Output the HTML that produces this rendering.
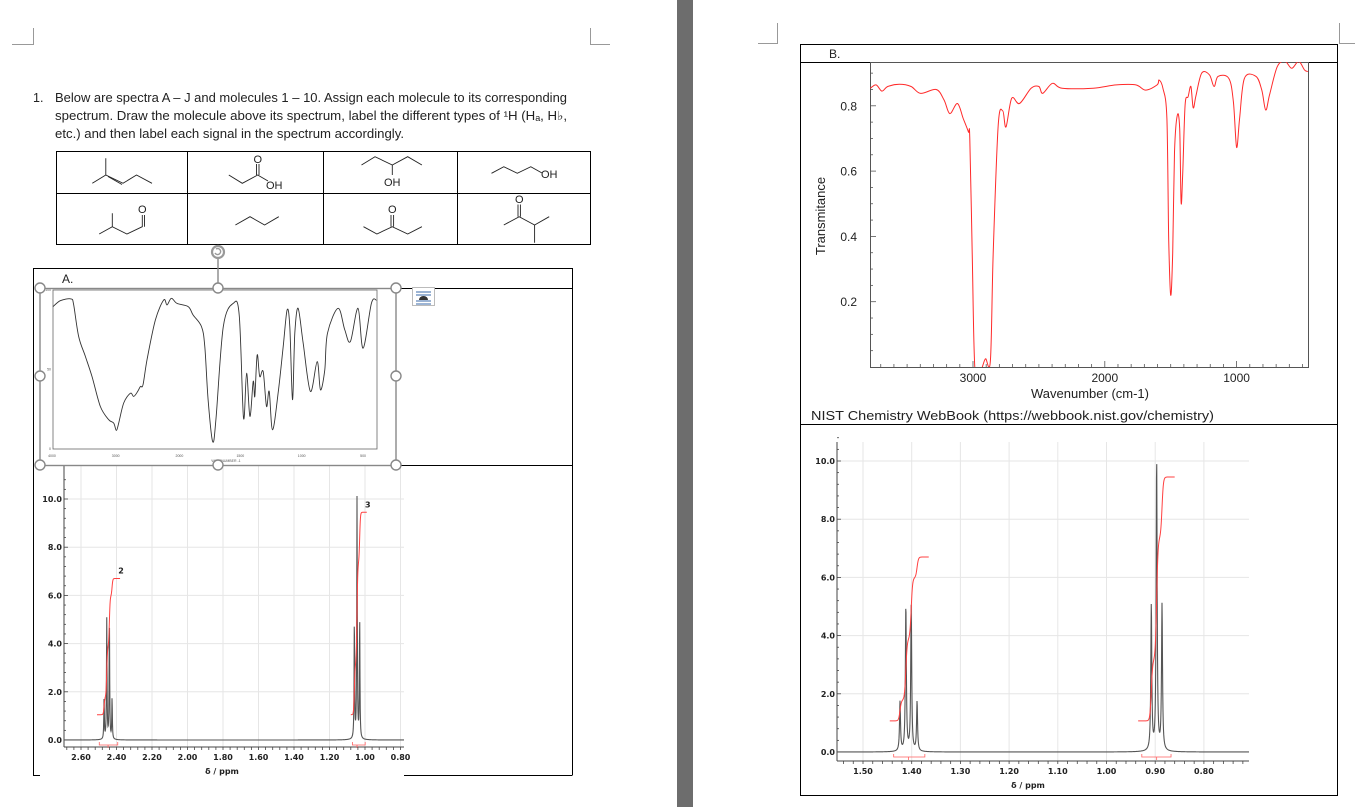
<!DOCTYPE html>
<html><head><meta charset="utf-8">
<style>
html,body{margin:0;padding:0;background:#fff;}
svg{display:block;font-family:"Liberation Sans",sans-serif;}
.nt{font-family:"DejaVu Sans","Liberation Sans",sans-serif;font-weight:bold;font-size:8px;fill:#222;}
</style></head>
<body>
<svg id="page" width="1355" height="807" viewBox="0 0 1355 807" xmlns="http://www.w3.org/2000/svg">
<rect x="0" y="0" width="1355" height="807" fill="#fff"/>
<rect x="677" y="0" width="16" height="807" fill="#6d6d6d"/>
<g stroke="#999" stroke-width="1" fill="none">
<path d="M12 44.5H33.5V28"/><path d="M590.5 28V44.5H610"/><path d="M758 43.5H777.5V23"/><path d="M1339.5 23V43.5H1355"/>
</g>
<g font-size="12.5" fill="#222">
<text x="33" y="102">1.</text>
<text x="55" y="102" textLength="512" lengthAdjust="spacingAndGlyphs">Below are spectra A – J and molecules 1 – 10. Assign each molecule to its corresponding</text>
<text x="55" y="120" textLength="512" lengthAdjust="spacingAndGlyphs">spectrum. Draw the molecule above its spectrum, label the different types of ¹H (Hₐ, H♭,</text>
<text x="55" y="138" textLength="349" lengthAdjust="spacingAndGlyphs">etc.) and then label each signal in the spectrum accordingly.</text>
</g>
<g stroke="#000" fill="none" stroke-width="1">
<rect x="56.5" y="151.5" width="534" height="93"/>
<path d="M56 193.5H591M187.5 151V245M323.5 151V245M457.5 151V245"/>
</g>
<g stroke="#222" fill="none" stroke-width="0.9">
<polyline points="92.3,183.3 105.8,175 123,183.3 136.5,175 152,183.3"/><path d="M105.8,158.3V175M108,176.5L122,184.5"/>
<polyline points="228.8,175 242.3,183.3 257.7,175 268,181"/><path d="M256.5,175V164M259,175V164"/>
<polyline points="361.5,165 375,156.7 392.3,165 407.7,156.7 421.9,165"/><path d="M392.3,165V175"/>
<polyline points="491.5,173.3 503.8,166.7 517.3,173.3 530.8,166.7 542,173"/>
<polyline points="99.2,234 112.3,226.7 126.9,234 142.3,226.7 142.3,215"/><path d="M112.3,226.7V213.3M144.5,226.7V215"/>
<polyline points="235.4,225 250,216.7 264.6,225 278.8,216.7"/>
<polyline points="363.5,226.7 376.9,234 392.3,226.7 407.7,234 421.9,226.7"/><path d="M391,226.7V215M393.6,226.7V215"/>
<polyline points="503.8,225 519.2,216.7 534.6,225 549.2,216.7"/><path d="M518,216.7V204.5M520.4,216.7V204.5M534.6,225V242.7"/>
</g>
<g font-size="11" fill="#222" stroke="none">
<text x="253.5" y="163">O</text><text x="266" y="189">OH</text>
<text x="384" y="186">OH</text><text x="541" y="178">OH</text>
<text x="138" y="213">O</text><text x="388" y="213">O</text><text x="515" y="203">O</text>
</g>
<g stroke="#000" fill="none" stroke-width="1">
<path d="M33.5 775V268.5H572.5V775"/>
<path d="M396 288.5H572.5M396 465.5H572.5M33 775.5H40M404 775.5H572.5"/>
</g>
<text x="62" y="283" font-size="12" fill="#222">A.</text>
<g id="irA"></g>
<g id="nmrA"></g>
<g stroke="#888" fill="#fff" stroke-width="1.4">
<rect x="40" y="288.5" width="356" height="177" fill="none"/>
<path d="M218 258V284" fill="none"/>
<circle cx="40" cy="288" r="5"/><circle cx="218" cy="288" r="5"/><circle cx="396" cy="288" r="5"/>
<circle cx="40" cy="376" r="5"/><circle cx="396" cy="376" r="5"/>
<circle cx="40" cy="465" r="5"/><circle cx="218" cy="465" r="5"/><circle cx="396" cy="465" r="5"/>
</g>
<g>
<circle cx="218" cy="252" r="6" fill="none" stroke="#999" stroke-width="2.2"/>
<path d="M216,249 a3,3 0 1 1 -1,4" fill="none" stroke="#999" stroke-width="1.4"/>
</g>
<g>
<rect x="412.5" y="287.5" width="22" height="18" fill="#fff" stroke="#bbb"/>
<path d="M416 292H431M416 295H431M416 301H431M416 304H431" stroke="#3a6aa8" stroke-width="1"/>
<path d="M419 300a4.5 4 0 0 1 9 0" fill="#333"/>
</g>
<g stroke="#000" fill="none" stroke-width="1">
<rect x="800.5" y="44.5" width="537" height="751"/>
<path d="M800 62.5H1338M800 424.5H1338"/>
</g>
<text x="829" y="58" font-size="12" fill="#222">B.</text>
<g id="irB"></g>
<text x="811" y="420" font-size="13" fill="#222" textLength="403" lengthAdjust="spacingAndGlyphs">NIST Chemistry WebBook (https://webbook.nist.gov/chemistry)</text>
<g id="nmrB"></g>
</svg>
<script>
const irA_wn = [3984,3869,3702,3660,3581,3476,3372,3241,3110,3031,2990,2953,2874,2770,2717,2654,2613,2571,2508,2377,2246,2194,2126,2037,1924,1885,1817,1790,1763,1726,1699,1639,1558,1509,1474,1449,1422,1395,1382,1363,1342,1314,1287,1265,1238,1192,1151,1119,1097,1075,1056,1029,988,929,874,847,812,790,703,649,603,541,500,432,391];
const irA_T = [89.5,93.3,94.4,90.6,70.7,58.2,45.6,26.8,18.4,16.3,11.7,16.3,28.9,35.1,33.1,36.2,39.3,40.4,56.1,81.2,93.7,90.6,94.8,91.6,89.5,84.3,77.0,64.4,31.0,4.8,18.4,77.0,91.6,84.3,19.5,47.7,20.5,42.5,33.1,59.2,45.6,48.7,26.8,36.2,12.1,35.1,64.4,87.4,77.0,31.0,72.8,88.5,66.5,36.2,55.0,37.2,49.8,72.8,88.5,74.9,67.6,88.5,63.4,91.6,93.7];
const irA_ticks = [4000,3000,2000,1500,1000,500];
const irB_wn = [3779,3735,3691,3647,3559,3470,3397,3279,3220,3176,3118,3074,3035,3024,3006,2985,2941,2906,2868,2847,2809,2774,2750,2706,2647,2559,2500,2471,2397,2324,2088,1912,1765,1691,1603,1588,1559,1529,1515,1500,1485,1471,1450,1432,1421,1409,1391,1368,1347,1329,1309,1265,1206,1171,1141,1059,1024,1000,977,941,853,809,779,750,691,632,582,529,485,460];
const irB_T = [.854,.864,.845,.859,.866,.859,.838,.850,.818,.776,.807,.761,.720,.699,.349,-.01,-.01,.025,.02,.349,.740,.784,.735,.823,.807,.854,.859,.838,.869,.854,.854,.864,.864,.848,.864,.879,.854,.761,.390,.220,.349,.658,.771,.730,.504,.591,.802,.828,.859,.794,.830,.900,.895,.859,.890,.884,.812,.673,.761,.884,.890,.848,.787,.833,.920,.936,.915,.936,.910,.905];
const irB_xticks = [3000,2000,1000];
const irB_yticks = [0.2,0.4,0.6,0.8];
const nmrA_pos = [2.470,2.455,2.440,2.425,1.060,1.045,1.030];
const nmrA_h = [1.7,5,5,1.7,5,10,5];
const nmrA_int = [[2.51,2.38,1.05,6.7,"2"],[1.08,0.99,1.05,9.45,"3"]];
const nmrA_xticks = [2.60,2.40,2.20,2.00,1.80,1.60,1.40,1.20,1.00,0.80];
const nmrB_pos = [1.424,1.412,1.401,1.389,0.908,0.897,0.886];
const nmrB_h = [1.7,5,5,1.7,5,10,5];
const nmrB_int = [[1.445,1.365,1.07,6.7,""],[0.935,0.86,1.07,9.45,""]];
const nmrB_xticks = [1.50,1.40,1.30,1.20,1.10,1.00,0.90,0.80];
const nmr_yticks = [0,2,4,6,8,10];

const NS = "http://www.w3.org/2000/svg";
function mk(tag, attrs, parent){const e=document.createElementNS(NS,tag);for(const k in attrs)e.setAttribute(k,attrs[k]);parent.appendChild(e);return e;}
function smooth(pts){
  let d='M'+pts[0][0].toFixed(1)+' '+pts[0][1].toFixed(1);
  for(let i=0;i<pts.length-1;i++){
    const p0=pts[Math.max(0,i-1)],p1=pts[i],p2=pts[i+1],p3=pts[Math.min(pts.length-1,i+2)];
    const c1=[p1[0]+(p2[0]-p0[0])/6,p1[1]+(p2[1]-p0[1])/6];
    const c2=[p2[0]-(p3[0]-p1[0])/6,p2[1]-(p3[1]-p1[1])/6];
    d+='C'+c1[0].toFixed(1)+' '+c1[1].toFixed(1)+' '+c2[0].toFixed(1)+' '+c2[1].toFixed(1)+' '+p2[0].toFixed(1)+' '+p2[1].toFixed(1);
  }
  return d;
}

(function(){
  const g=document.getElementById('irA');
  const L=53,R=377,T0=449,T100=290;
  const x=w=> w>=2000 ? 52+(4000-w)*0.0637 : 179+(2000-w)*0.1227;
  const y=t=> T0-(t/100)*(T0-T100);
  const fr=mk('rect',{x:L,y:T100,width:R-L,height:T0-T100,fill:'none',stroke:'#666','stroke-width':0.8},g);
  
  
  const pts=irA_wn.map((w,i)=>[x(w),y(irA_T[i])]);
  const ln=mk('path',{d:smooth(pts),fill:'none',stroke:'#333','stroke-width':0.9,'stroke-linejoin':'round'},g);
  
  
  irA_ticks.forEach(w=>{
    const t=mk('text',{x:x(w),y:457,'font-size':3.5,'text-anchor':'middle',fill:'#555'},g);
    
    
    t.textContent=w;
  });
  [[0,'0'],[50,'50'],[100,'100']].forEach(v=>{
    const t=mk('text',{x:51,y:y(v[0])+1,'font-size':3.5,'text-anchor':'end',fill:'#555'},g);
    
    
    t.textContent=v[1];
  });
  const xl=mk('text',{x:226,y:462,'font-size':3.5,'text-anchor':'middle',fill:'#555'},g);
  
  
  xl.textContent='WAVENUMBER -1';
})();

(function(){
  const g=document.getElementById('irB');
  const L=870,R=1308,TOP=62,BOT=367;
  const x=w=>973+(3000-w)*0.1318;
  const y=t=>367-t*326.5;
  const cp=mk('clipPath',{id:'irbclip'},g);
  mk('rect',{x:L,y:TOP,width:R-L,height:BOT-TOP},cp);
  const fr=mk('rect',{x:L+.5,y:TOP+.5,width:R-L,height:BOT-TOP,fill:'none',stroke:'#555','stroke-width':1},g);
  
  
  for(let w=3700;w>=500;w-=100){
    const major=w%1000===0;
    mk('line',{x1:x(w),x2:x(w),y1:BOT,y2:BOT-(major?6:3),stroke:'#555','stroke-width':0.8},g);
  }
  for(let t=0.05;t<0.93;t+=0.05){
    const major=Math.abs(t*5-Math.round(t*5))<1e-6;
    mk('line',{x1:L,x2:L+(major?6:3),y1:y(t),y2:y(t),stroke:'#555','stroke-width':0.8},g);
  }
  irB_xticks.forEach(w=>{
    const t=mk('text',{x:x(w),y:382,'font-size':12,'text-anchor':'middle',fill:'#222'},g);
    
    
    t.textContent=w;
  });
  irB_yticks.forEach(v=>{
    const t=mk('text',{x:857,y:y(v)+4.5,'font-size':12,'text-anchor':'end',fill:'#222'},g);
    
    
    t.textContent=v.toFixed(1);
  });
  const xl=mk('text',{x:1090,y:398,'font-size':13,'text-anchor':'middle',fill:'#222'},g);
  
  
  xl.textContent='Wavenumber (cm-1)';
  const yl=mk('text',{x:0,y:0,'font-size':13,'text-anchor':'middle',fill:'#222',transform:'translate(825,216) rotate(-90)'},g);
  
  
  yl.textContent='Transmitance';
  const pts=irB_wn.map((w,i)=>[x(w),y(irB_T[i])]);
  const ln=mk('path',{d:smooth(pts),fill:'none',stroke:'#ff2a2a','stroke-width':1,'stroke-linejoin':'round','clip-path':'url(#irbclip)'},g);
  
  
})();

function nmr(id,cfg,pos,h,ints,xticks){
  const g=document.getElementById(id);
  const x=p=>cfg.x0+(cfg.p0-p)*cfg.k;
  const y=v=>cfg.yz-v*cfg.ky;
  const pL=cfg.p0+(cfg.x0-cfg.L)/cfg.k, pR=cfg.p0-(cfg.R-cfg.x0)/cfg.k;
  nmr_yticks.forEach(v=>{
    if(v>0) mk('line',{x1:cfg.L,x2:cfg.R,y1:y(v),y2:y(v),stroke:'#e6e6e6','stroke-width':1},g);
    const t=mk('text',{x:cfg.L-2,y:y(v)+3,'text-anchor':'end',class:'nt'},g);
    
    
    t.textContent=v.toFixed(1);
  });
  xticks.forEach(p=>{
    mk('line',{x1:x(p),x2:x(p),y1:cfg.top,y2:cfg.ax,stroke:'#e6e6e6','stroke-width':1},g);
    const t=mk('text',{x:x(p),y:cfg.ax+13,'text-anchor':'middle',class:'nt'},g);
    
    
    t.textContent=p.toFixed(2);
  });
  mk('line',{x1:cfg.L,x2:cfg.L,y1:cfg.top,y2:cfg.ax,stroke:'#444','stroke-width':1},g);
  mk('line',{x1:cfg.L,x2:cfg.R,y1:cfg.ax,y2:cfg.ax,stroke:'#444','stroke-width':1},g);
  for(let v=0;v<=11;v+=0.4) mk('line',{x1:cfg.L,x2:cfg.L+(Math.abs(v/2-Math.round(v/2))<1e-6?4:2),y1:y(v),y2:y(v),stroke:'#444','stroke-width':0.8},g);
  const stepMinor=(xticks[0]-xticks[1])/5;
  for(let p=xticks[0]+stepMinor*3;p>pR;p-=stepMinor){ if(p<pL) mk('line',{x1:x(p),x2:x(p),y1:cfg.ax,y2:cfg.ax+3,stroke:'#444','stroke-width':0.8},g);}
  let d='';
  for(let px=cfg.L;px<=cfg.R;px+=0.25){
    const p=cfg.p0-(px-cfg.x0)/cfg.k;let v=0;
    pos.forEach((c,i)=>{const u=(p-c)/cfg.w;v+=h[i]/(1+u*u);});
    d+=(px===cfg.L?'M':'L')+px.toFixed(2)+' '+y(v).toFixed(2);
  }
  const sp=mk('path',{d:d,fill:'none',stroke:'#555','stroke-width':1.1},g);
  
  
  ints.forEach(it=>{
    const [pa,pb,v0,v1,lab]=it;
    const ps=pos.map((c,i)=>i).filter(i=>pos[i]<pa&&pos[i]>pb);
    const tot=ps.reduce((s,i)=>s+h[i],0);
    let dd='';
    for(let p=pa;p>=pb-1e-9;p-=(pa-pb)/200){
      let f=0;ps.forEach(i=>{f+=h[i]/(1+Math.exp((p-pos[i])/(cfg.w*1.2)));});
      const v=v0+(v1-v0)*f/tot;
      dd+=(dd?'L':'M')+x(p).toFixed(2)+' '+y(v).toFixed(2);
    }
    const ip=mk('path',{d:dd,fill:'none',stroke:'#ff4040','stroke-width':1},g);
    
    
    const mid=ps.reduce((s,i)=>s+pos[i],0)/ps.length;
    const br=mk('path',{d:'M'+x(pa-0.25*(pa-pb)*0.4)+' '+(y(0)+2)+'v3H'+x(pb+0.25*(pa-pb)*0.4)+'v-3M'+x(mid)+' '+(y(0)+5)+'v3',fill:'none',stroke:'#ff6060','stroke-width':0.8},g);
    
    
    if(lab){
      const t=mk('text',{x:x(pb)+1,y:y(v1)-5,'text-anchor':'middle',class:'nt'},g);
      
      
      t.textContent=lab;
    }
  });
  const xl=mk('text',{x:cfg.lx,y:cfg.ax+27,'text-anchor':'middle',class:'nt'},g);
  
  
  xl.textContent='δ / ppm';
}
nmr('nmrA',{x0:81,p0:2.60,k:177.5,L:64,R:404,yz:740,ky:24.1,ax:747,top:466,w:0.0018,lx:222},nmrA_pos,nmrA_h,nmrA_int,nmrA_xticks);
nmr('nmrB',{x0:863,p0:1.50,k:487,L:837,R:1249,yz:752,ky:29.1,ax:761,top:442,w:0.0012,lx:1028},nmrB_pos,nmrB_h,nmrB_int,nmrB_xticks);
</script>
</body></html>
